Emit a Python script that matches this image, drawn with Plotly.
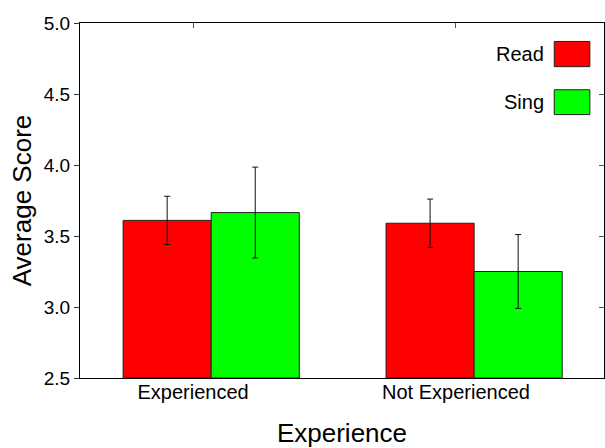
import plotly.graph_objects as go

categories = ["Experienced", "Not Experienced"]
series_names = ["Read", "Sing"]
read_values = [3.61, 3.59]
read_errors = [0.17, 0.17]
sing_values = [3.665, 3.25]
sing_errors = [0.32, 0.26]
y_ticks = [2.5, 3.0, 3.5, 4.0, 4.5, 5.0]
colors = ["#FF0000", "#00FF00"]
y_base = 2.5

xpos = list(range(len(categories)))
FONT = "Liberation Sans, Arial, Helvetica, sans-serif"
W = 0.335

fig = go.Figure()
for name, vals, errs, col, off in [
    (series_names[0], read_values, read_errors, colors[0], -0.266),
    (series_names[1], sing_values, sing_errors, colors[1], -0.266 + W),
]:
    fig.add_trace(go.Bar(
        x=xpos, y=[v - y_base for v in vals], base=y_base, name=name, width=W, offset=off,
        marker=dict(color=col, line=dict(color="#222222", width=1)),
        error_y=dict(type="data", array=errs, color="#111111", thickness=1, width=3),
        showlegend=False,
    ))

fig.add_trace(go.Scatter(x=[None], y=[None], xaxis="x2", yaxis="y2", showlegend=False))

fig.update_layout(
    width=605, height=448,
    margin=dict(l=80, r=1, t=23, b=70, autoexpand=False),
    paper_bgcolor="white", plot_bgcolor="white",
    barmode="overlay",
    font=dict(family=FONT, size=19, color="black"),
    xaxis=dict(
        range=[-0.43, 1.563], tickvals=xpos, ticktext=categories,
        ticks="", showline=True, linecolor="black", linewidth=1, mirror=True,
        showgrid=False, zeroline=False, automargin=False,
        tickfont=dict(size=20), ticklabelstandoff=-4,
        title=dict(text="Experience", font=dict(size=26), standoff=23),
    ),
    xaxis2=dict(
        range=[-0.43, 1.563], tickvals=xpos, overlaying="x", side="top",
        ticks="inside", ticklen=5, tickcolor="#555555", showticklabels=False,
        showgrid=False, zeroline=False, showline=False, automargin=False,
    ),
    yaxis=dict(
        range=[2.5, 5.0], tickvals=y_ticks, ticktext=[f"{t:.1f}" for t in y_ticks],
        ticks="outside", ticklen=5, tickcolor="#333333",
        showline=True, linecolor="black", linewidth=1, mirror=True,
        showgrid=False, zeroline=False, automargin=False,
        tickfont=dict(size=19),
        title=dict(text="Average Score", font=dict(size=26), standoff=4),
    ),
    yaxis2=dict(
        range=[2.5, 5.0], tickvals=y_ticks, overlaying="y", side="right",
        ticks="inside", ticklen=5, tickcolor="#555555", showticklabels=False,
        showgrid=False, zeroline=False, showline=False, automargin=False,
    ),
)

# legend (text left of swatch)
leg = [(series_names[0], colors[0], 0.948, 0.877), (series_names[1], colors[1], 0.812, 0.742)]
for name, col, y1, y0 in leg:
    fig.add_shape(type="rect", xref="paper", yref="paper", x0=0.905, x1=0.973, y0=y0, y1=y1,
                  fillcolor=col, line=dict(color="#222222", width=1))
    fig.add_annotation(xref="paper", yref="paper", x=0.889, y=(y0 + y1) / 2, text=name,
                       showarrow=False, xanchor="right", yanchor="middle",
                       font=dict(size=20, color="black"))

fig.write_html("out.html", config={"displayModeBar": False},
               post_script="document.body.style.margin='0px';")
